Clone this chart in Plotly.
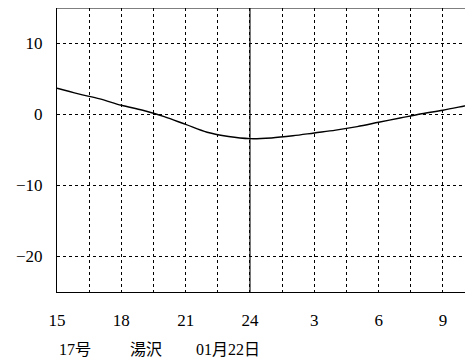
import plotly.graph_objects as go

# hours since 0:00 of day 1 (24 = midnight, 27 = 3:00 next day)
hours = [15, 16, 17, 18, 19, 20, 21, 22, 23, 24, 25, 26, 27, 28, 29, 30, 31, 32, 33, 34, 34.5]
temps = [3.7, 2.9, 2.2, 1.3, 0.6, -0.3, -1.4, -2.5, -3.1, -3.4, -3.3, -3.0, -2.6, -2.2, -1.7, -1.1, -0.5, 0.1, 0.6, 1.2, 1.5]

x_tickvals = [15, 18, 21, 24, 27, 30, 33]
x_ticktext = ["15", "18", "21", "24", "3", "6", "9"]
y_tickvals = [10, 0, -10, -20]
caption_parts = ["17号", "湯沢", "01月22日"]
caption_px = [57, 128, 194]

OFF = 8  # default page body margin
W, H = 473 - OFF, 362 - OFF
ML, MR, MT, MB = 57 - OFF, 0, 8 - OFF, 70
serif = "Liberation Serif, Noto Sans CJK JP, serif"

fig = go.Figure()
fig.add_trace(go.Scatter(x=hours, y=temps, mode="lines",
                         line=dict(color="black", width=1.4, shape="spline"),
                         hoverinfo="skip", showlegend=False))

fig.add_vline(x=24, line=dict(color="black", width=1.1), layer="above")

fig.update_xaxes(range=[15, 34.4], tickvals=x_tickvals, ticktext=x_ticktext,
                 showgrid=True, gridcolor="black", gridwidth=1, griddash="3px,3px",
                 minor=dict(tick0=15, dtick=1.5, showgrid=True, gridcolor="black",
                            gridwidth=1, griddash="3px,3px"),
                 ticks="outside", ticklen=12, tickcolor="white",
                 showline=True, linecolor="black", linewidth=1.2, mirror=False,
                 zeroline=False, tickfont=dict(family=serif, size=17, color="black"))
fig.update_yaxes(range=[-25, 15], tickvals=y_tickvals,
                 showgrid=True, gridcolor="black", gridwidth=1, griddash="3px,3px",
                 ticks="outside", ticklen=10, tickcolor="white",
                 showline=True, linecolor="black", linewidth=1.2,
                 zeroline=False, tickfont=dict(family=serif, size=17, color="black"))

# top border
fig.add_shape(type="line", xref="paper", yref="paper", x0=0, x1=1, y0=1, y1=1,
              line=dict(color="black", width=1.2))

plot_w = W - ML - MR
plot_h = H - MT - MB
for txt, px in zip(caption_parts, caption_px):
    fig.add_annotation(text=txt, xref="paper", yref="paper",
                       x=(px - OFF - ML) / plot_w,
                       y=-((349 - OFF) - (H - MB)) / plot_h,
                       xanchor="left", yanchor="middle", showarrow=False,
                       font=dict(family=serif, size=16, color="black"))

fig.update_layout(width=W, height=H, margin=dict(l=ML, r=MR, t=MT, b=MB, pad=0),
                  paper_bgcolor="white", plot_bgcolor="white")

fig.write_html("out.html")
